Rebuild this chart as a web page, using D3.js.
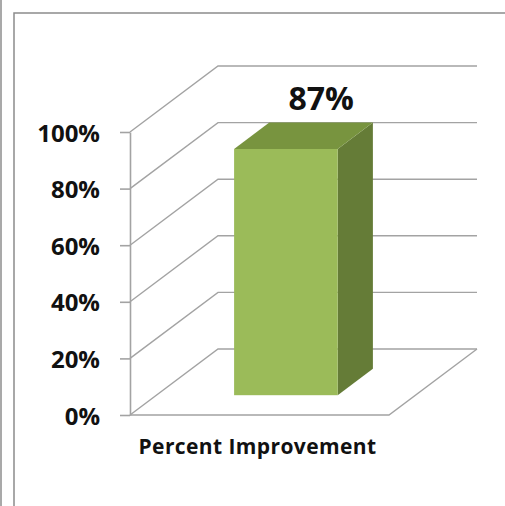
<!DOCTYPE html>
<html>
<head>
<meta charset="utf-8">
<script src="https://cdn.jsdelivr.net/npm/d3@7"></script>
<style>
  html, body { margin: 0; padding: 0; background: #fff; }
  svg { display: block; }
  text { font-family: "Open Sans", "Liberation Sans", sans-serif; font-weight: bold; fill: #111; }
</style>
</head>
<body>
<div id="chart"></div>
<script>
// Data
const categories = ["Percent Improvement"];
const values = [0.87];
const valueLabels = ["87%"];
const tickValues = [0, 0.2, 0.4, 0.6, 0.8, 1.0];

const W = 505, H = 506;
const svg = d3.select("#chart").append("svg").attr("width", W).attr("height", H);

// Frame lines around the chart area
svg.append("line").attr("x1", 1).attr("x2", 1).attr("y1", 0).attr("y2", H)
  .attr("stroke", "#8c8c8c").attr("stroke-width", 1.5);
svg.append("path").attr("d", `M14,${H} L14,13 L${W},13`)
  .attr("fill", "none").attr("stroke", "#8c8c8c").attr("stroke-width", 1.5);

// Front plane scales
const x = d3.scaleBand().domain(categories).range([130, 389]).paddingInner(0).paddingOuter(0.75);
const y = d3.scaleLinear().domain([0, 1]).range([415, 132]);

// Oblique depth projection: t = 0 front plane, t = 1 back wall
const DX = 88, DY = -66;
const P = (px, py, t) => [px + DX * t, py + DY * t];

const grid = svg.append("g").attr("fill", "none").attr("stroke", "#a3a3a3").attr("stroke-width", 1.4);

// Side wall diagonals and back wall gridlines
tickValues.forEach(v => {
  const a = P(130, y(v), 0), b = P(130, y(v), 1), c = P(389, y(v), 1);
  grid.append("path").attr("d", `M${a}L${b}L${c}`);
});
// Floor front and right edges
{
  const a = P(130, y(0), 0), b = P(389, y(0), 0), c = P(389, y(0), 1);
  grid.append("path").attr("d", `M${a}L${b}L${c}`);
}

// Value axis
const axis = svg.append("g").attr("transform", "translate(130,0)")
  .call(d3.axisLeft(y).tickValues(tickValues).tickFormat(d3.format(".0%"))
    .tickSize(10).tickSizeOuter(0).tickPadding(20));
axis.select(".domain").attr("stroke", "#a3a3a3").attr("stroke-width", 1.6);
axis.selectAll(".tick line").attr("stroke", "#a3a3a3").attr("stroke-width", 1.6);
axis.selectAll(".tick text").attr("font-size", 24).attr("font-family", "'Open Sans', sans-serif")
  .attr("font-weight", "bold").attr("fill", "#111").attr("dy", "0.38em");

// 3D bars
const t0 = 0.3, t1 = 0.7;
const bars = svg.append("g");
categories.forEach((cat, i) => {
  const xl = x(cat), xr = x(cat) + x.bandwidth();
  const yb = y(0), yt = y(values[i]);
  // side face
  bars.append("path")
    .attr("d", `M${P(xr, yt, t0)}L${P(xr, yt, t1)}L${P(xr, yb, t1)}L${P(xr, yb, t0)}Z`)
    .attr("fill", "#657c37");
  // top face
  bars.append("path")
    .attr("d", `M${P(xl, yt, t0)}L${P(xl, yt, t1)}L${P(xr, yt, t1)}L${P(xr, yt, t0)}Z`)
    .attr("fill", "#78943f");
  // front face
  const f0 = P(xl, yt, t0), f1 = P(xr, yb, t0);
  bars.append("rect")
    .attr("x", f0[0]).attr("y", f0[1])
    .attr("width", f1[0] - f0[0]).attr("height", f1[1] - f0[1])
    .attr("fill", "#9bbb59");
  // value label
  const lp = P((xl + xr) / 2, yt, 0.7);
  bars.append("text")
    .attr("x", lp[0]).attr("y", lp[1] - 13)
    .attr("text-anchor", "middle").attr("font-size", 32)
    .text(valueLabels[i]);
  // category label
  svg.append("text")
    .attr("x", x(cat) + x.bandwidth() / 2 - 2).attr("y", 454)
    .attr("text-anchor", "middle").attr("font-size", 21)
    .attr("letter-spacing", 0.4)
    .text(cat);
});
</script>
</body>
</html>
